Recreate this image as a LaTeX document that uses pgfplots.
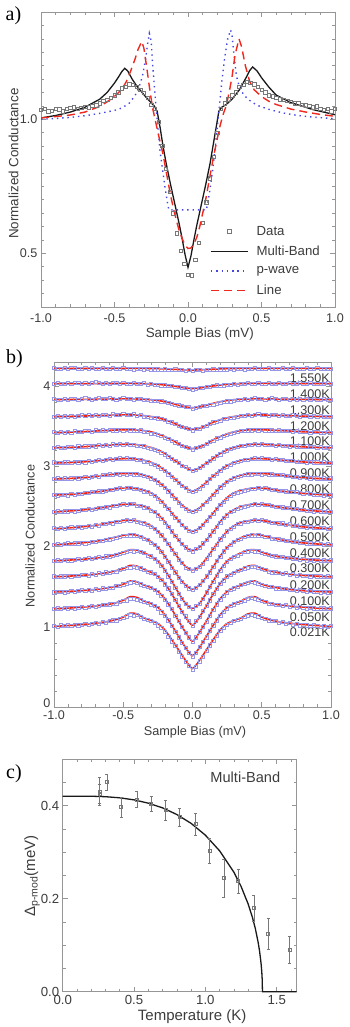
\documentclass[border=0pt]{standalone}
\usepackage{pgfplots}
\pgfplotsset{compat=1.18}
\usepackage{pgfplotstable}
\usepackage{fontspec}
\setmainfont{Liberation Sans}
\newfontfamily\serifpanel{Liberation Serif}

\definecolor{axgray}{RGB}{150,150,150}
\definecolor{txtgray}{RGB}{60,60,60}
\definecolor{sqgray}{RGB}{120,120,120}
\definecolor{mbblack}{RGB}{25,25,25}
\definecolor{pblue}{RGB}{70,70,230}
\definecolor{lred}{RGB}{240,40,30}
\definecolor{sqblue}{RGB}{150,150,232}
\definecolor{fitred}{RGB}{235,35,25}

\newcommand{\fs}[1]{\fontsize{#1}{#1}\selectfont}

\pgfplotsset{
  panel/.style={
    scale only axis, anchor=south west,
    axis line style={axgray, line width=0.8pt},
    tick style={axgray, line width=0.6pt},
    major tick length=5pt, minor tick length=3pt,
    tick align=inside,
    /pgf/number format/assume math mode=true,
    tick label style={font=\fs{12.6}, text=txtgray},
    label style={text=txtgray},
    xlabel style={anchor=center},
    ylabel style={anchor=center},
  },
  datab/.style={only marks, mark=square, mark size=1.6pt,
    mark options={draw=sqblue, line width=0.5pt, fill=none}},
  fitb/.style={fitred, line width=1.6pt, smooth, tension=0.45, no marks},
}

% panel b fits: relative conductance, |x| symmetric, one column per temperature
\pgfplotstableread{
x f0 f1 f2 f3 f4 f5 f6 f7 f8 f9 f10 f11 f12 f13 f14 f15 f16
-1.00 1.005 1.005 1.003 1.003 1.003 1.0 1.0 1.0 1.0 1.0 1.0 1.0 1.0 1.0 1.0 1.0 1.0
-0.95 1.01 1.008 1.006 1.006 1.006 1.006 1.006 1.006 1.005 1.004 1.003 1.002 1.002 1.001 1.001 1.0 1.0
-0.90 1.015 1.012 1.01 1.01 1.01 1.012 1.012 1.012 1.01 1.008 1.006 1.005 1.004 1.002 1.002 1.0 1.0
-0.85 1.02 1.018 1.015 1.015 1.015 1.018 1.018 1.018 1.015 1.012 1.01 1.008 1.007 1.004 1.003 1.0 1.0
-0.80 1.028 1.025 1.02 1.02 1.02 1.025 1.025 1.025 1.022 1.018 1.014 1.012 1.01 1.006 1.004 1.0 1.0
-0.75 1.035 1.03 1.028 1.028 1.028 1.035 1.035 1.035 1.03 1.025 1.02 1.018 1.015 1.008 1.005 1.001 1.0
-0.70 1.045 1.04 1.035 1.035 1.035 1.045 1.045 1.045 1.04 1.035 1.028 1.024 1.02 1.01 1.006 1.001 1.0
-0.65 1.055 1.05 1.045 1.045 1.045 1.06 1.06 1.055 1.05 1.045 1.035 1.03 1.024 1.013 1.007 1.002 1.0
-0.60 1.07 1.06 1.06 1.06 1.06 1.08 1.075 1.07 1.065 1.055 1.045 1.035 1.028 1.016 1.008 1.002 1.0
-0.55 1.09 1.08 1.075 1.08 1.08 1.10 1.09 1.085 1.08 1.065 1.05 1.04 1.032 1.018 1.009 1.003 1.0
-0.50 1.12 1.11 1.10 1.105 1.11 1.12 1.105 1.095 1.09 1.07 1.055 1.045 1.035 1.02 1.01 1.003 1.0
-0.45 1.17 1.155 1.14 1.145 1.14 1.13 1.11 1.10 1.09 1.07 1.055 1.045 1.035 1.02 1.01 1.003 1.0
-0.40 1.16 1.145 1.13 1.135 1.135 1.12 1.10 1.09 1.08 1.065 1.05 1.04 1.033 1.018 1.009 1.002 1.0
-0.35 1.11 1.10 1.09 1.095 1.10 1.09 1.08 1.07 1.06 1.05 1.035 1.025 1.025 1.012 1.006 1.0 1.0
-0.30 1.08 1.07 1.06 1.06 1.06 1.04 1.04 1.03 1.03 1.02 1.01 1.005 1.01 1.0 1.0 0.997 0.999
-0.25 1.04 1.02 1.01 1.01 1.00 0.97 0.97 0.97 0.97 0.97 0.97 0.975 0.985 0.985 0.99 0.991 0.997
-0.20 0.96 0.93 0.92 0.92 0.89 0.86 0.87 0.88 0.88 0.90 0.91 0.93 0.95 0.96 0.975 0.983 0.994
-0.15 0.84 0.80 0.79 0.79 0.75 0.73 0.75 0.76 0.78 0.81 0.84 0.87 0.91 0.93 0.955 0.972 0.99
-0.10 0.71 0.66 0.64 0.64 0.60 0.60 0.63 0.65 0.68 0.72 0.76 0.81 0.86 0.89 0.93 0.96 0.986
-0.05 0.58 0.52 0.50 0.50 0.47 0.50 0.53 0.56 0.59 0.64 0.69 0.75 0.82 0.855 0.91 0.945 0.982
0.00 0.48 0.42 0.39 0.40 0.41 0.45 0.49 0.52 0.55 0.60 0.65 0.72 0.80 0.84 0.90 0.94 0.98
0.05 0.58 0.52 0.50 0.50 0.47 0.50 0.53 0.56 0.59 0.64 0.69 0.75 0.82 0.855 0.91 0.945 0.982
0.10 0.71 0.66 0.64 0.64 0.60 0.60 0.63 0.65 0.68 0.72 0.76 0.81 0.86 0.89 0.93 0.96 0.986
0.15 0.84 0.80 0.79 0.79 0.75 0.73 0.75 0.76 0.78 0.81 0.84 0.87 0.91 0.93 0.955 0.972 0.99
0.20 0.96 0.93 0.92 0.92 0.89 0.86 0.87 0.88 0.88 0.90 0.91 0.93 0.95 0.96 0.975 0.983 0.994
0.25 1.04 1.02 1.01 1.01 1.00 0.97 0.97 0.97 0.97 0.97 0.97 0.975 0.985 0.985 0.99 0.991 0.997
0.30 1.08 1.07 1.06 1.06 1.06 1.04 1.04 1.03 1.03 1.02 1.01 1.005 1.01 1.0 1.0 0.997 0.999
0.35 1.11 1.10 1.09 1.095 1.10 1.09 1.08 1.07 1.06 1.05 1.035 1.025 1.025 1.012 1.006 1.0 1.0
0.40 1.16 1.145 1.13 1.135 1.135 1.12 1.10 1.09 1.08 1.065 1.05 1.04 1.033 1.018 1.009 1.002 1.0
0.45 1.17 1.155 1.14 1.145 1.14 1.13 1.11 1.10 1.09 1.07 1.055 1.045 1.035 1.02 1.01 1.003 1.0
0.50 1.12 1.11 1.10 1.105 1.11 1.12 1.105 1.095 1.09 1.07 1.055 1.045 1.035 1.02 1.01 1.003 1.0
0.55 1.09 1.08 1.075 1.08 1.08 1.10 1.09 1.085 1.08 1.065 1.05 1.04 1.032 1.018 1.009 1.003 1.0
0.60 1.07 1.06 1.06 1.06 1.06 1.08 1.075 1.07 1.065 1.055 1.045 1.035 1.028 1.016 1.008 1.002 1.0
0.65 1.055 1.05 1.045 1.045 1.045 1.06 1.06 1.055 1.05 1.045 1.035 1.03 1.024 1.013 1.007 1.002 1.0
0.70 1.045 1.04 1.035 1.035 1.035 1.045 1.045 1.045 1.04 1.035 1.028 1.024 1.02 1.01 1.006 1.001 1.0
0.75 1.035 1.03 1.028 1.028 1.028 1.035 1.035 1.035 1.03 1.025 1.02 1.018 1.015 1.008 1.005 1.001 1.0
0.80 1.028 1.025 1.02 1.02 1.02 1.025 1.025 1.025 1.022 1.018 1.014 1.012 1.01 1.006 1.004 1.0 1.0
0.85 1.02 1.018 1.015 1.015 1.015 1.018 1.018 1.018 1.015 1.012 1.01 1.008 1.007 1.004 1.003 1.0 1.0
0.90 1.015 1.012 1.01 1.01 1.01 1.012 1.012 1.012 1.01 1.008 1.006 1.005 1.004 1.002 1.002 1.0 1.0
0.95 1.01 1.008 1.006 1.006 1.006 1.006 1.006 1.006 1.005 1.004 1.003 1.002 1.002 1.001 1.001 1.0 1.0
1.00 1.005 1.005 1.003 1.003 1.003 1.0 1.0 1.0 1.0 1.0 1.0 1.0 1.0 1.0 1.0 1.0 1.0
}\tabF

% panel b data: one row per temperature, transposed below
\pgfplotstableread{
name c0 c1 c2 c3 c4 c5 c6 c7 c8 c9 c10 c11 c12 c13 c14 c15 c16 c17 c18 c19 c20 c21 c22 c23 c24 c25 c26 c27 c28 c29 c30 c31 c32 c33 c34 c35 c36 c37 c38 c39 c40 c41 c42 c43 c44 c45 c46 c47 c48 c49 c50 c51 c52 c53 c54 c55 c56 c57 c58 c59 c60 c61 c62 c63 c64 c65 c66 c67 c68 c69 c70 c71 c72 c73 c74 c75 c76 c77 c78 c79 c80
x -1 -0.975 -0.95 -0.925 -0.9 -0.875 -0.85 -0.825 -0.8 -0.775 -0.75 -0.725 -0.7 -0.675 -0.65 -0.625 -0.6 -0.575 -0.55 -0.525 -0.5 -0.475 -0.45 -0.425 -0.4 -0.375 -0.35 -0.325 -0.3 -0.275 -0.25 -0.225 -0.2 -0.175 -0.15 -0.125 -0.1 -0.075 -0.05 -0.025 0 0.025 0.05 0.075 0.1 0.125 0.15 0.175 0.2 0.225 0.25 0.275 0.3 0.325 0.35 0.375 0.4 0.425 0.45 0.475 0.5 0.525 0.55 0.575 0.6 0.625 0.65 0.675 0.7 0.725 0.75 0.775 0.8 0.825 0.85 0.875 0.9 0.925 0.95 0.975 1
d0 1.01 1.00 1.02 1.01 1.02 1.01 1.03 1.02 1.03 1.04 1.03 1.04 1.05 1.04 1.06 1.05 1.07 1.08 1.08 1.10 1.11 1.13 1.15 1.14 1.15 1.12 1.10 1.09 1.07 1.05 1.02 0.99 0.94 0.88 0.82 0.76 0.69 0.63 0.56 0.51 0.46 0.50 0.57 0.63 0.70 0.77 0.83 0.89 0.95 0.99 1.03 1.05 1.07 1.09 1.10 1.12 1.14 1.15 1.14 1.13 1.11 1.10 1.08 1.07 1.07 1.05 1.06 1.04 1.05 1.03 1.04 1.02 1.03 1.02 1.01 1.02 1.01 1.00 1.01 1.00 1.01
d1 1.00 1.01 1.00 1.02 1.01 1.02 1.01 1.02 1.03 1.02 1.03 1.04 1.03 1.04 1.05 1.05 1.06 1.07 1.07 1.09 1.10 1.11 1.13 1.13 1.12 1.11 1.09 1.08 1.06 1.04 1.01 0.96 0.92 0.86 0.79 0.72 0.65 0.58 0.52 0.46 0.41 0.46 0.53 0.59 0.65 0.73 0.80 0.86 0.92 0.97 1.01 1.04 1.06 1.08 1.09 1.11 1.13 1.14 1.13 1.12 1.10 1.09 1.07 1.07 1.05 1.05 1.04 1.05 1.03 1.04 1.02 1.03 1.02 1.01 1.02 1.01 1.00 1.01 1.01 1.00 1.01
d2 1.00 1.01 1.01 1.00 1.01 1.02 1.01 1.02 1.03 1.02 1.03 1.02 1.04 1.03 1.05 1.04 1.06 1.06 1.08 1.08 1.10 1.11 1.12 1.13 1.12 1.10 1.08 1.07 1.06 1.03 1.00 0.96 0.91 0.85 0.79 0.71 0.64 0.57 0.50 0.44 0.38 0.44 0.51 0.57 0.63 0.71 0.78 0.85 0.91 0.96 1.00 1.03 1.05 1.07 1.09 1.11 1.12 1.13 1.12 1.11 1.09 1.08 1.07 1.07 1.05 1.05 1.04 1.04 1.03 1.03 1.02 1.03 1.02 1.01 1.02 1.01 1.01 1.00 1.01 1.00 1.01
d3 1.01 1.00 1.01 1.01 1.02 1.01 1.02 1.02 1.03 1.03 1.02 1.04 1.03 1.05 1.04 1.06 1.05 1.07 1.07 1.09 1.10 1.12 1.12 1.13 1.12 1.11 1.09 1.07 1.06 1.04 1.00 0.97 0.91 0.86 0.79 0.72 0.64 0.57 0.51 0.45 0.39 0.45 0.50 0.58 0.64 0.71 0.79 0.85 0.92 0.96 1.01 1.03 1.05 1.08 1.09 1.11 1.12 1.13 1.13 1.12 1.10 1.09 1.07 1.06 1.06 1.05 1.04 1.05 1.03 1.04 1.02 1.03 1.02 1.02 1.01 1.02 1.01 1.01 1.00 1.01 1.00
d4 1.00 1.01 1.00 1.02 1.01 1.01 1.02 1.03 1.02 1.03 1.04 1.03 1.04 1.05 1.04 1.06 1.06 1.07 1.08 1.09 1.10 1.11 1.13 1.12 1.13 1.11 1.10 1.07 1.06 1.03 0.99 0.94 0.88 0.81 0.74 0.67 0.59 0.53 0.47 0.43 0.40 0.44 0.47 0.53 0.61 0.68 0.74 0.82 0.88 0.94 0.99 1.03 1.05 1.07 1.09 1.11 1.12 1.13 1.12 1.12 1.10 1.09 1.08 1.07 1.06 1.05 1.05 1.04 1.04 1.03 1.03 1.02 1.03 1.01 1.02 1.01 1.02 1.00 1.01 1.00 1.01
d5 1.00 1.01 1.00 1.01 1.02 1.01 1.02 1.02 1.03 1.02 1.03 1.04 1.04 1.05 1.05 1.06 1.07 1.08 1.09 1.10 1.11 1.11 1.12 1.12 1.11 1.10 1.08 1.06 1.03 1.00 0.96 0.91 0.85 0.79 0.72 0.66 0.59 0.54 0.49 0.46 0.44 0.47 0.50 0.55 0.61 0.66 0.73 0.80 0.85 0.92 0.96 1.00 1.04 1.06 1.08 1.10 1.11 1.12 1.11 1.12 1.11 1.10 1.10 1.08 1.08 1.07 1.06 1.05 1.05 1.04 1.04 1.03 1.03 1.02 1.02 1.01 1.02 1.01 1.00 1.01 1.00
d6 1.01 1.00 1.01 1.00 1.01 1.02 1.01 1.03 1.02 1.03 1.04 1.03 1.05 1.04 1.06 1.06 1.08 1.07 1.09 1.09 1.10 1.11 1.10 1.11 1.09 1.08 1.07 1.05 1.03 1.00 0.96 0.92 0.86 0.81 0.74 0.69 0.62 0.58 0.52 0.50 0.48 0.50 0.53 0.57 0.63 0.68 0.75 0.80 0.87 0.91 0.97 1.00 1.03 1.06 1.07 1.09 1.09 1.10 1.11 1.10 1.11 1.10 1.09 1.08 1.08 1.07 1.07 1.05 1.06 1.04 1.04 1.03 1.03 1.02 1.03 1.01 1.02 1.01 1.01 1.00 1.01
d7 1.00 1.01 1.00 1.01 1.01 1.02 1.01 1.02 1.03 1.03 1.04 1.03 1.04 1.05 1.05 1.07 1.06 1.08 1.08 1.09 1.10 1.09 1.10 1.10 1.08 1.08 1.06 1.05 1.02 1.00 0.96 0.92 0.87 0.82 0.76 0.70 0.65 0.60 0.56 0.53 0.51 0.54 0.56 0.61 0.65 0.71 0.76 0.82 0.87 0.93 0.96 1.00 1.02 1.04 1.06 1.07 1.08 1.09 1.10 1.09 1.10 1.09 1.09 1.08 1.07 1.07 1.06 1.05 1.05 1.04 1.04 1.03 1.03 1.02 1.02 1.01 1.02 1.01 1.00 1.01 1.00
d8 1.01 1.00 1.01 1.01 1.00 1.02 1.01 1.02 1.02 1.03 1.03 1.04 1.04 1.05 1.05 1.06 1.07 1.07 1.08 1.09 1.08 1.09 1.09 1.08 1.08 1.07 1.05 1.04 1.02 0.99 0.96 0.92 0.87 0.83 0.77 0.72 0.68 0.63 0.59 0.56 0.54 0.56 0.59 0.63 0.68 0.73 0.77 0.83 0.88 0.92 0.96 0.99 1.02 1.03 1.05 1.06 1.07 1.08 1.08 1.09 1.08 1.09 1.08 1.07 1.07 1.06 1.06 1.05 1.04 1.04 1.04 1.03 1.02 1.03 1.02 1.01 1.01 1.01 1.00 1.01 1.00
d9 1.00 1.01 1.00 1.01 1.00 1.01 1.02 1.01 1.02 1.03 1.02 1.03 1.04 1.03 1.05 1.05 1.06 1.05 1.07 1.06 1.07 1.06 1.07 1.06 1.06 1.05 1.04 1.03 1.01 0.99 0.96 0.93 0.89 0.85 0.80 0.76 0.71 0.67 0.63 0.61 0.59 0.61 0.63 0.68 0.72 0.76 0.81 0.85 0.90 0.93 0.97 0.99 1.01 1.03 1.04 1.05 1.06 1.06 1.07 1.07 1.06 1.07 1.06 1.06 1.05 1.05 1.05 1.04 1.04 1.03 1.03 1.02 1.03 1.02 1.01 1.02 1.01 1.00 1.01 1.00 1.01
d10 1.01 1.00 1.00 1.01 1.01 1.00 1.02 1.01 1.02 1.01 1.03 1.02 1.03 1.04 1.03 1.04 1.05 1.04 1.05 1.06 1.05 1.06 1.05 1.05 1.04 1.04 1.02 1.02 0.99 0.98 0.96 0.93 0.90 0.86 0.83 0.79 0.75 0.72 0.69 0.66 0.64 0.66 0.68 0.72 0.76 0.80 0.84 0.87 0.90 0.94 0.96 0.98 1.00 1.02 1.03 1.04 1.04 1.05 1.06 1.05 1.06 1.05 1.05 1.04 1.05 1.04 1.04 1.03 1.03 1.03 1.02 1.02 1.02 1.01 1.02 1.01 1.01 1.00 1.01 1.00 1.00
d11 1.00 1.01 1.00 1.00 1.01 1.01 1.00 1.02 1.01 1.02 1.02 1.03 1.02 1.04 1.03 1.04 1.03 1.05 1.04 1.05 1.04 1.05 1.04 1.04 1.03 1.03 1.02 1.00 0.99 0.98 0.96 0.94 0.92 0.89 0.86 0.84 0.81 0.78 0.76 0.74 0.71 0.73 0.75 0.78 0.81 0.84 0.87 0.90 0.92 0.95 0.97 0.99 1.00 1.01 1.03 1.03 1.04 1.04 1.05 1.04 1.05 1.04 1.04 1.04 1.03 1.04 1.03 1.03 1.02 1.03 1.02 1.02 1.01 1.02 1.01 1.01 1.00 1.01 1.00 1.00 1.01
d12 1.01 1.00 1.01 1.00 1.01 1.00 1.02 1.01 1.01 1.02 1.02 1.01 1.03 1.02 1.03 1.02 1.04 1.03 1.03 1.04 1.03 1.04 1.03 1.03 1.02 1.03 1.01 1.01 0.99 0.99 0.97 0.96 0.94 0.92 0.90 0.88 0.86 0.84 0.82 0.81 0.79 0.81 0.82 0.84 0.86 0.89 0.90 0.93 0.94 0.96 0.97 0.99 1.00 1.01 1.02 1.02 1.03 1.03 1.04 1.03 1.04 1.03 1.03 1.03 1.02 1.03 1.02 1.02 1.02 1.01 1.02 1.01 1.01 1.01 1.00 1.01 1.01 1.00 1.00 1.01 1.00
d13 1.00 1.01 1.00 1.01 1.00 1.01 1.00 1.01 1.02 1.01 1.02 1.01 1.02 1.01 1.02 1.02 1.01 1.03 1.02 1.02 1.03 1.02 1.02 1.03 1.01 1.02 1.00 1.00 0.99 0.99 0.98 0.97 0.96 0.94 0.93 0.91 0.89 0.87 0.86 0.85 0.83 0.85 0.85 0.87 0.89 0.91 0.93 0.94 0.95 0.97 0.97 0.99 0.99 1.00 1.01 1.01 1.02 1.01 1.02 1.03 1.02 1.02 1.01 1.02 1.02 1.01 1.02 1.01 1.01 1.02 1.01 1.00 1.01 1.01 1.00 1.01 1.00 1.01 1.00 1.00 1.00
d14 1.01 1.00 1.00 1.01 1.00 1.01 1.01 1.00 1.01 1.02 1.01 1.00 1.01 1.02 1.01 1.01 1.02 1.01 1.00 1.01 1.02 1.01 1.01 1.00 1.01 1.01 1.00 1.00 0.99 0.99 0.99 0.98 0.97 0.96 0.95 0.94 0.93 0.92 0.91 0.91 0.89 0.90 0.91 0.92 0.92 0.94 0.94 0.95 0.96 0.97 0.98 0.98 0.99 1.00 1.00 1.01 1.00 1.01 1.02 1.01 1.01 1.00 1.01 1.02 1.01 1.00 1.01 1.01 1.00 1.01 1.00 1.01 1.00 1.01 1.00 1.01 1.00 1.00 1.01 1.00 1.00
d15 1.00 1.01 1.00 1.00 1.01 1.00 1.01 1.01 1.00 1.01 1.00 1.01 1.02 1.01 1.00 1.01 1.00 1.01 1.01 1.00 1.01 1.00 1.00 1.01 1.00 1.00 1.01 0.99 1.00 0.99 0.99 0.98 0.98 0.97 0.97 0.96 0.96 0.95 0.95 0.94 0.93 0.94 0.95 0.95 0.96 0.96 0.97 0.98 0.97 0.98 0.99 0.99 1.00 0.99 1.00 1.00 1.01 1.00 1.00 1.01 1.00 1.00 1.01 1.00 1.00 1.01 1.00 1.00 1.01 1.00 1.00 1.01 1.00 1.00 1.01 1.00 1.00 1.00 1.00 1.01 1.00
d16 1.01 1.00 1.00 1.01 1.00 1.01 1.01 1.00 1.00 1.01 1.00 1.01 1.00 1.00 1.01 1.00 1.00 1.01 1.00 1.00 1.01 1.00 1.00 0.99 1.00 1.00 0.99 1.00 0.99 0.99 0.99 0.98 0.99 0.98 0.98 0.99 0.98 0.98 0.97 0.98 0.97 0.98 0.98 0.97 0.98 0.98 0.99 0.98 0.99 0.99 0.99 1.00 0.99 1.00 1.00 0.99 1.00 1.00 1.01 1.00 1.00 1.00 1.01 1.00 1.00 1.00 1.01 1.00 1.00 1.01 1.00 1.00 1.00 1.01 1.00 1.00 1.01 1.00 1.00 1.00 1.00
}\rawD
\pgfplotstabletranspose[colnames from=name]{\tabD}{\rawD}

\begin{document}
\begin{tikzpicture}
\path[use as bounding box] (0,0) rectangle (349pt,1027pt);

% ---------------- a) ----------------
\begin{axis}[panel, at={(41pt,720pt)}, width=294pt, height=295pt,
  xmin=-1, xmax=1, ymin=0.3, ymax=1.4,
  xtick={-1,-0.5,0,0.5,1}, minor x tick num=4,
  ytick={0.5,1.0}, minor ytick={0.3,0.35,...,1.4},
  xticklabel style={yshift=-3pt, /pgf/number format/fixed, /pgf/number format/fixed zerofill, /pgf/number format/precision=1},
  yticklabel style={/pgf/number format/fixed, /pgf/number format/fixed zerofill, /pgf/number format/precision=1},
  xlabel={Sample Bias (mV)}, ylabel={Normalized Conductance},
  label style={font=\fs{13.4}},
  xlabel style={at={(axis description cs:0.54,-0.093)}},
  ylabel style={at={(axis description cs:-0.0935,0.486)}},
  legend style={at={(axis description cs:0.575,0.278)}, anchor=north west,
    draw=none, fill=none, inner sep=0pt, row sep=7.5pt,
    font=\fs{13.2}, text=txtgray, nodes={inner sep=1pt}},
  legend cell align=left,
  legend image code/.code={\draw[mark repeat=2,mark phase=2,#1] plot coordinates {(0pt,0pt) (18.5pt,0pt) (37pt,0pt)}; \path (44pt,0pt);},
]
\addplot[only marks, mark=square, mark size=1.7pt, mark options={draw=sqgray, line width=0.6pt, fill=none}] coordinates {
(-1,1.035)(-0.975,1.04)(-0.95,1.03)(-0.925,1.032)(-0.9,1.04)(-0.875,1.037)(-0.85,1.03)(-0.825,1.04)(-0.8,1.043)(-0.775,1.045)
(-0.75,1.04)(-0.725,1.042)(-0.7,1.047)(-0.675,1.045)(-0.65,1.05)(-0.625,1.052)(-0.6,1.06)(-0.575,1.068)(-0.55,1.072)(-0.525,1.08)
(-0.5,1.09)(-0.475,1.1)(-0.45,1.115)(-0.425,1.12)(-0.4,1.13)(-0.375,1.128)(-0.35,1.12)(-0.325,1.11)(-0.3,1.098)(-0.275,1.08)
(-0.25,1.055)(-0.225,1.04)(-0.2,0.99)(-0.175,0.9)(-0.15,0.815)(-0.125,0.73)(-0.1,0.65)(-0.075,0.575)(-0.05,0.51)(-0.025,0.46)
(0,0.42)(0.025,0.418)(0.05,0.475)(0.075,0.54)(0.1,0.615)(0.125,0.69)(0.15,0.78)(0.175,0.86)(0.2,0.95)(0.225,1.04)
(0.25,1.06)(0.275,1.075)(0.3,1.09)(0.325,1.1)(0.35,1.12)(0.375,1.128)(0.4,1.14)(0.425,1.135)(0.45,1.13)(0.475,1.12)
(0.5,1.11)(0.525,1.1)(0.55,1.09)(0.575,1.085)(0.6,1.08)(0.625,1.075)(0.65,1.072)(0.675,1.068)(0.7,1.065)(0.725,1.06)
(0.75,1.06)(0.775,1.055)(0.8,1.052)(0.825,1.05)(0.85,1.045)(0.875,1.048)(0.9,1.04)(0.925,1.035)(0.95,1.038)(0.975,1.03)(1,1.04)};
\addlegendentry{Data}
\addplot[mbblack, line width=1.3pt] coordinates {
(-1,1.005)(-0.9,1.014)(-0.8,1.027)(-0.7,1.045)(-0.6,1.075)(-0.55,1.1)(-0.5,1.135)(-0.47,1.16)(-0.45,1.178)(-0.43,1.19)
(-0.41,1.18)(-0.38,1.15)(-0.35,1.125)(-0.32,1.105)(-0.29,1.085)(-0.26,1.067)(-0.23,1.05)(-0.21,1.03)(-0.19,0.97)(-0.17,0.9)
(-0.15,0.84)(-0.12,0.76)(-0.1,0.71)(-0.08,0.66)(-0.06,0.61)(-0.04,0.555)(-0.02,0.495)(0,0.448)(0.02,0.49)(0.04,0.55)
(0.06,0.605)(0.08,0.655)(0.1,0.705)(0.12,0.755)(0.15,0.835)(0.17,0.9)(0.19,0.965)(0.21,1.03)(0.23,1.045)(0.26,1.055)
(0.3,1.075)(0.35,1.11)(0.4,1.16)(0.42,1.182)(0.44,1.195)(0.47,1.18)(0.5,1.155)(0.55,1.12)(0.6,1.09)(0.7,1.062)(0.85,1.036)(1,1.017)};
\addlegendentry{Multi-Band}
\addplot[pblue, line width=1.4pt, dash pattern=on 1.4pt off 3.9pt] coordinates {
(-1,1.0)(-0.9,1.003)(-0.8,1.007)(-0.7,1.013)(-0.6,1.022)(-0.5,1.033)(-0.45,1.042)(-0.4,1.06)(-0.36,1.088)(-0.33,1.125)
(-0.31,1.16)(-0.29,1.22)(-0.275,1.28)(-0.263,1.32)(-0.25,1.29)(-0.24,1.2)(-0.224,1.09)(-0.21,1.0)(-0.19,0.88)(-0.17,0.8)
(-0.156,0.745)(-0.14,0.69)(-0.13,0.662)(0.125,0.662)(0.135,0.69)(0.15,0.74)(0.17,0.82)(0.19,0.92)(0.21,1.03)(0.23,1.14)
(0.25,1.23)(0.27,1.3)(0.29,1.333)(0.3,1.31)(0.315,1.23)(0.33,1.16)(0.35,1.12)(0.38,1.09)(0.42,1.07)(0.47,1.052)
(0.55,1.037)(0.65,1.023)(0.75,1.014)(0.85,1.008)(0.95,1.004)(1,1.002)};
\addlegendentry{p-wave}
\addplot[draw=lred, line width=1.4pt, dash pattern=on 8pt off 5pt] coordinates {
(-1,1.005)(-0.9,1.01)(-0.8,1.016)(-0.7,1.027)(-0.6,1.048)(-0.55,1.065)(-0.5,1.085)(-0.45,1.112)(-0.42,1.14)(-0.39,1.18)
(-0.36,1.225)(-0.34,1.26)(-0.315,1.29)(-0.3,1.265)(-0.28,1.19)(-0.26,1.11)(-0.24,1.04)(-0.22,0.99)(-0.2,0.94)(-0.17,0.87)
(-0.14,0.78)(-0.12,0.72)(-0.1,0.67)(-0.08,0.625)(-0.06,0.585)(-0.04,0.555)(-0.02,0.53)(0,0.518)(0.02,0.52)(0.04,0.535)
(0.06,0.56)(0.08,0.6)(0.1,0.65)(0.12,0.7)(0.14,0.76)(0.17,0.85)(0.2,0.93)(0.22,0.98)(0.24,1.02)(0.26,1.05)
(0.28,1.1)(0.3,1.16)(0.32,1.24)(0.347,1.3)(0.365,1.27)(0.39,1.2)(0.42,1.14)(0.45,1.11)(0.5,1.085)(0.55,1.067)
(0.6,1.055)(0.7,1.038)(0.8,1.027)(0.9,1.018)(1,1.011)};
\addlegendentry{Line}
\end{axis}

% ---------------- b) ----------------
\begin{axis}[panel, at={(54pt,320pt)}, width=277pt, height=345pt,
  xmin=-1, xmax=1, ymin=0, ymax=4.3,
  xtick={-1,-0.5,0,0.5,1}, minor x tick num=4,
  ytick={1,2,3,4}, minor ytick={0,0.2,...,4.2},
  extra y ticks={0}, extra y tick style={yticklabel style={yshift=4pt}},
  xticklabel style={/pgf/number format/fixed, /pgf/number format/fixed zerofill, /pgf/number format/precision=1},
  xlabel={Sample Bias (mV)}, ylabel={Normalized Conductance},
  label style={font=\fs{12.7}},
  xlabel style={at={(axis description cs:0.509,-0.072)}},
  ylabel style={at={(axis description cs:-0.0866,0.496)}},
]
\addplot[datab] table[x=x, y expr=\thisrow{d0}+0.00] {\tabD};
\addplot[datab] table[x=x, y expr=\thisrow{d1}+0.22] {\tabD};
\addplot[datab] table[x=x, y expr=\thisrow{d2}+0.43] {\tabD};
\addplot[datab] table[x=x, y expr=\thisrow{d3}+0.62] {\tabD};
\addplot[datab] table[x=x, y expr=\thisrow{d4}+0.82] {\tabD};
\addplot[datab] table[x=x, y expr=\thisrow{d5}+1.02] {\tabD};
\addplot[datab] table[x=x, y expr=\thisrow{d6}+1.22] {\tabD};
\addplot[datab] table[x=x, y expr=\thisrow{d7}+1.43] {\tabD};
\addplot[datab] table[x=x, y expr=\thisrow{d8}+1.64] {\tabD};
\addplot[datab] table[x=x, y expr=\thisrow{d9}+1.84] {\tabD};
\addplot[datab] table[x=x, y expr=\thisrow{d10}+2.04] {\tabD};
\addplot[datab] table[x=x, y expr=\thisrow{d11}+2.23] {\tabD};
\addplot[datab] table[x=x, y expr=\thisrow{d12}+2.42] {\tabD};
\addplot[datab] table[x=x, y expr=\thisrow{d13}+2.62] {\tabD};
\addplot[datab] table[x=x, y expr=\thisrow{d14}+2.83] {\tabD};
\addplot[datab] table[x=x, y expr=\thisrow{d15}+3.03] {\tabD};
\addplot[datab] table[x=x, y expr=\thisrow{d16}+3.22] {\tabD};
\addplot[fitb] table[x=x, y expr=\thisrow{f0}+0.00] {\tabF};
\addplot[fitb] table[x=x, y expr=\thisrow{f1}+0.22] {\tabF};
\addplot[fitb] table[x=x, y expr=\thisrow{f2}+0.43] {\tabF};
\addplot[fitb] table[x=x, y expr=\thisrow{f3}+0.62] {\tabF};
\addplot[fitb] table[x=x, y expr=\thisrow{f4}+0.82] {\tabF};
\addplot[fitb] table[x=x, y expr=\thisrow{f5}+1.02] {\tabF};
\addplot[fitb] table[x=x, y expr=\thisrow{f6}+1.22] {\tabF};
\addplot[fitb] table[x=x, y expr=\thisrow{f7}+1.43] {\tabF};
\addplot[fitb] table[x=x, y expr=\thisrow{f8}+1.64] {\tabF};
\addplot[fitb] table[x=x, y expr=\thisrow{f9}+1.84] {\tabF};
\addplot[fitb] table[x=x, y expr=\thisrow{f10}+2.04] {\tabF};
\addplot[fitb] table[x=x, y expr=\thisrow{f11}+2.23] {\tabF};
\addplot[fitb] table[x=x, y expr=\thisrow{f12}+2.42] {\tabF};
\addplot[fitb] table[x=x, y expr=\thisrow{f13}+2.62] {\tabF};
\addplot[fitb] table[x=x, y expr=\thisrow{f14}+2.83] {\tabF};
\addplot[fitb] table[x=x, y expr=\thisrow{f15}+3.03] {\tabF};
\addplot[fitb] table[x=x, y expr=\thisrow{f16}+3.22] {\tabF};
\begin{scope}[every node/.style={anchor=east, inner sep=1pt, font=\fs{12.6}, text=txtgray}]
\node at (axis cs:1,0.935) {0.021K};
\node at (axis cs:1,1.12) {0.050K};
\node at (axis cs:1,1.32) {0.100K};
\node at (axis cs:1,1.52) {0.200K};
\node at (axis cs:1,1.73) {0.300K};
\node at (axis cs:1,1.92) {0.400K};
\node at (axis cs:1,2.12) {0.500K};
\node at (axis cs:1,2.32) {0.600K};
\node at (axis cs:1,2.51) {0.700K};
\node at (axis cs:1,2.71) {0.800K};
\node at (axis cs:1,2.91) {0.900K};
\node at (axis cs:1,3.11) {1.000K};
\node at (axis cs:1,3.31) {1.100K};
\node at (axis cs:1,3.50) {1.200K};
\node at (axis cs:1,3.70) {1.300K};
\node at (axis cs:1,3.90) {1.400K};
\node at (axis cs:1,4.10) {1.550K};
\end{scope}
\end{axis}

% ---------------- c) ----------------
\begin{axis}[panel, at={(62.7pt,35.3pt)}, width=234pt, height=232.7pt,
  xmin=0, xmax=1.64, ymin=0, ymax=0.5, clip=false,
  xtick={0,0.5,1,1.5}, minor xtick={0,0.1,...,1.6},
  ytick={0,0.2,0.4}, minor ytick={0,0.05,...,0.5},
  tick label style={font=\fs{13.2}},
  xticklabel style={/pgf/number format/fixed, /pgf/number format/fixed zerofill, /pgf/number format/precision=1},
  yticklabel style={/pgf/number format/fixed, /pgf/number format/fixed zerofill, /pgf/number format/precision=1},
  xlabel={Temperature (K)}, ylabel={Δ\textsubscript{p-mod}(meV)},
  label style={font=\fs{15}},
  xlabel style={at={(axis description cs:0.553,-0.107)}},
  ylabel style={at={(axis description cs:-0.131,0.497)}},
]
\addplot[mbblack, line width=1.3pt] coordinates {
(0,0.42)(0.2,0.42)(0.3,0.419)(0.4,0.4166)(0.5,0.4122)(0.6,0.4051)(0.7,0.395)(0.8,0.3807)(0.9,0.3617)(1.0,0.3363)
(1.1,0.3026)(1.2,0.2566)(1.25,0.2263)(1.3,0.1883)(1.33,0.1593)(1.35,0.1357)(1.37,0.1058)(1.38,0.0867)(1.39,0.0615)
(1.395,0.0436)(1.398,0.0276)(1.4,0)(1.64,0)};
\addplot[only marks, mark=square, mark size=1.5pt, mark options={draw=sqgray, line width=0.5pt, fill=none},
  error bars/.cd, y dir=both, y explicit,
  error bar style={sqgray, line width=0.6pt},
  error mark options={rotate=90, mark size=1.5pt, sqgray}] coordinates {
(0.26,0.43) +- (0,0.03)
(0.26,0.425) +- (0,0.02)
(0.31,0.451) +- (0,0.017)
(0.41,0.397) +- (0,0.021)
(0.52,0.413) +- (0,0.017)
(0.62,0.404) +- (0,0.016)
(0.72,0.39) +- (0,0.021)
(0.82,0.375) +- (0,0.02)
(0.93,0.36) +- (0,0.024)
(1.03,0.303) +- (0,0.026)
(1.13,0.244) +- (0,0.04)
(1.23,0.238) +- (0,0.026)
(1.34,0.18) +- (0,0.028)
(1.44,0.125) +- (0,0.033)
(1.59,0.091) +- (0,0.029)};
\node[font=\fs{14.6}, text=txtgray] at (axis cs:1.28,0.46) {Multi-Band};
\end{axis}

\node[font=\serifpanel\fs{20}] at (13.5pt,1011pt) {a)};
\node[font=\serifpanel\fs{20}] at (14.5pt,668pt) {b)};
\node[font=\serifpanel\fs{20}] at (14pt,253pt) {c)};
\end{tikzpicture}
\end{document}
